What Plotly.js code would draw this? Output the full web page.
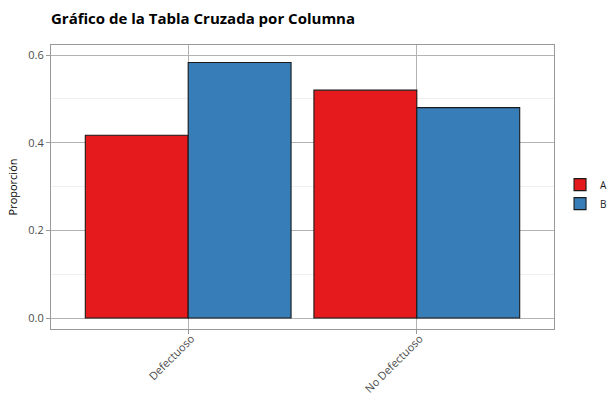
<!DOCTYPE html>
<html>
<head>
<meta charset="utf-8">
<script src="https://cdn.plot.ly/plotly-3.0.1.min.js"></script>
<style>html,body{margin:0;padding:0;background:#fff;}#chart{width:608px;height:400px;}</style>
</head>
<body>
<div id="chart"></div>
<script>
var categories = ["Defectuoso", "No Defectuoso"];
var seriesNames = ["A", "B"];
var valuesA = [0.417, 0.520];
var valuesB = [0.583, 0.480];
var colors = ["#E41A1C", "#377EB8"];
var yTicks = [0.0, 0.2, 0.4, 0.6];
var yTickText = ["0.0", "0.2", "0.4", "0.6"];

var traces = [valuesA, valuesB].map(function (vals, i) {
  return {
    type: "bar",
    x: categories,
    y: vals,
    name: seriesNames[i],
    marker: {color: colors[i], line: {color: "#1a1a1a", width: 1.1}},
    hoverinfo: "x+y+name"
  };
});

var layout = {
  width: 608, height: 400,
  margin: {l: 51, r: 54, t: 45, b: 71, autoexpand: false},
  paper_bgcolor: "#ffffff",
  plot_bgcolor: "#ffffff",
  font: {family: "Open Sans, sans-serif", color: "#4d4d4d", size: 11},
  title: {
    text: "<b>Gráfico de la Tabla Cruzada por Columna</b>",
    font: {family: "Open Sans, sans-serif", size: 15, color: "#000000"},
    x: 0, xref: "paper", xanchor: "left", y: 0.952, yanchor: "middle"
  },
  barmode: "group",
  bargap: 0.1,
  bargroupgap: 0,
  xaxis: {
    type: "category",
    range: [-0.6, 1.6],
    tickangle: -45,
    ticks: "outside", ticklen: 4, tickcolor: "#999999", tickwidth: 1,
    ticklabelstandoff: -6,
    ticklabelshift: 3,
    showgrid: true, gridcolor: "#b3b3b3", gridwidth: 1,
    showline: true, linecolor: "#999999", linewidth: 1, mirror: true,
    zeroline: false,
    tickfont: {size: 11, color: "#4d4d4d"}
  },
  yaxis: {
    range: [-0.025, 0.623],
    tickvals: yTicks, ticktext: yTickText,
    ticks: "outside", ticklen: 4, tickcolor: "#999999", tickwidth: 1,
    showgrid: true, gridcolor: "#b3b3b3", gridwidth: 1,
    minor: {dtick: 0.1, tick0: 0.1, showgrid: true, gridcolor: "#efefef", gridwidth: 0.8, ticks: ""},
    showline: true, linecolor: "#999999", linewidth: 1, mirror: true,
    zeroline: false,
    title: {text: "Proporción", font: {size: 11, color: "#000000"}, standoff: 8},
    tickfont: {size: 11, color: "#4d4d4d"}
  },
  legend: {
    x: 1.012, xanchor: "left", y: 0.475, yanchor: "middle",
    font: {size: 10, color: "#1a1a1a"},
    tracegroupgap: 0,
    itemwidth: 30
  },
  showlegend: true
};

Plotly.newPlot("chart", traces, layout, {displayModeBar: false});
</script>
</body>
</html>
